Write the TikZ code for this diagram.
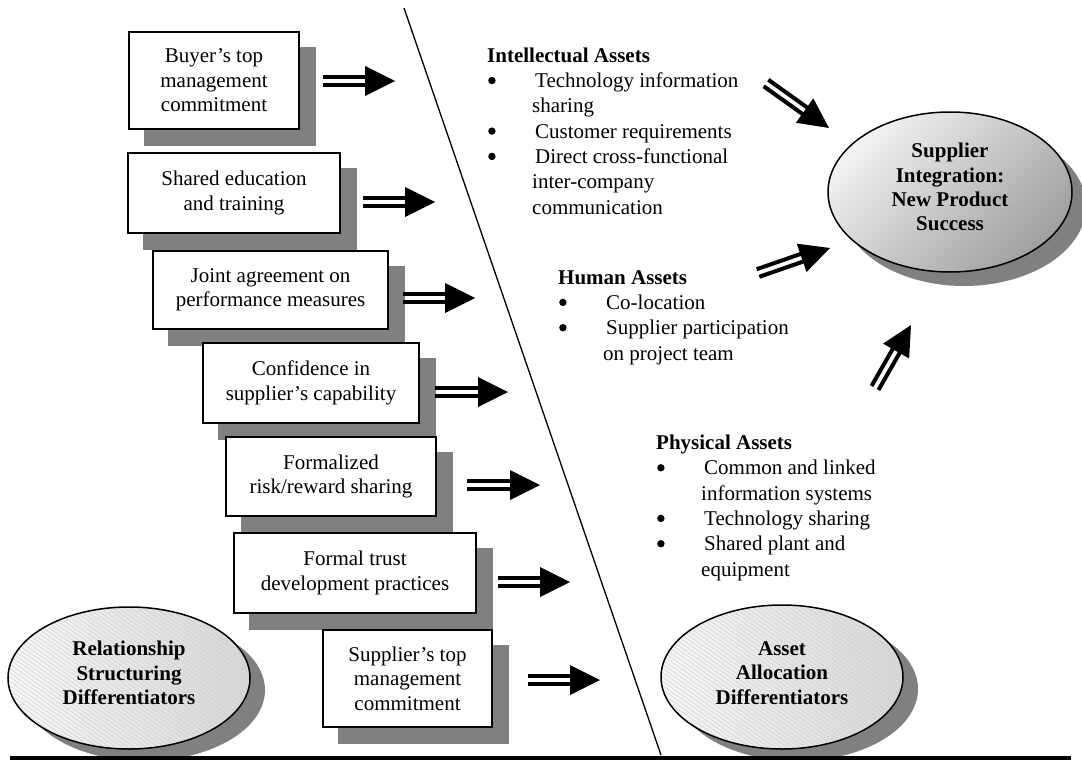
\documentclass[tikz,border=0pt]{standalone}
\usepackage{fontspec}
\setmainfont{Liberation Serif}
\usetikzlibrary{shapes.geometric,calc,backgrounds,patterns.meta}

% bullet and hanging indent for the asset lists
\newcommand\bitem{\makebox[48pt][l]{\hspace*{1pt}\tikz[baseline=-7pt]\fill (0,0) circle[radius=3.7pt];}}
\newcommand\contline{\hspace*{45pt}}

% block arrow: two parallel bars and a solid triangular head, from #1 (tail) to #2 (tip)
\newcommand\blockarrow[2]{%
  \coordinate (#2-base) at ($(#2)!30pt!(#1)$);
  \coordinate (#2-join) at ($(#2)!29pt!(#1)$);
  \fill[arrowfill] ($(#1)!2pt!90:(#2)$) -- ($(#1)!6pt!90:(#2)$)
     -- ($(#2-join)!6pt!90:(#2)$) -- ($(#2-join)!2pt!90:(#2)$) -- cycle;
  \fill[arrowfill] ($(#1)!2pt!-90:(#2)$) -- ($(#1)!6pt!-90:(#2)$)
     -- ($(#2-join)!6pt!-90:(#2)$) -- ($(#2-join)!2pt!-90:(#2)$) -- cycle;
  \fill[arrowfill] ($(#2-base)!15pt!90:(#2)$) -- (#2) -- ($(#2-base)!15pt!-90:(#2)$) -- cycle;
}

\begin{document}
\begin{tikzpicture}[x=1pt, y=-1pt,
  factor/.style={draw, line width=1.8pt, fill=white, inner sep=0pt,
    align=center, font=\fontsize{21}{24.5}\selectfont},
  shadowfill/.style={fill=gray},
  arrowfill/.style={fill=black},
  differ/.style={ellipse, draw, line width=1.5pt, inner sep=0pt,
    preaction={left color=gray!6, right color=gray!32},
    pattern={Lines[angle=-35, distance=3.5pt, line width=0.5pt]}, pattern color=gray!38},
  outcome/.style={ellipse, draw, line width=1.5pt, inner sep=0pt,
    top color=gray!10, bottom color=gray!75, shading angle=45},
  etxt/.style={align=center, inner sep=0pt, font=\bfseries\fontsize{21}{24.3}\selectfont},
  listtxt/.style={align=left, inner sep=0pt, anchor=base west,
    font=\fontsize{21}{25.3}\selectfont},
]
\useasboundingbox (0,0) rectangle (1082,760);

% dividing line and base rule
\coordinate (st) at (404,8);
\coordinate (sb) at (661,755);
\draw[line width=1.3pt] (st) -- (sb);
\coordinate (bl) at (10,758);
\coordinate (br) at (1071,758);
\draw[line width=4pt] (bl) -- (br);

% relationship structuring factors
\node[factor, minimum width=170, minimum height=97] (f1) at (214,80.5) {Buyer’s top\\management\\commitment};
\node[factor, minimum width=212, minimum height=80] (f2) at (234,193) {Shared education\\and training};
\node[factor, minimum width=235, minimum height=78] (f3) at (270.5,290) {Joint agreement on\\performance measures};
\node[factor, minimum width=216, minimum height=80] (f4) at (311,383) {Confidence in\\supplier’s capability};
\node[factor, minimum width=210, minimum height=79] (f5) at (331,476.5) {Formalized\\risk/reward sharing};
\node[factor, minimum width=242, minimum height=80] (f6) at (355,573) {Formal trust\\development practices};
\node[factor, minimum width=169, minimum height=97] (f7) at (407.5,678.5) {Supplier’s top\\management\\commitment};

% ellipses
\node[differ, minimum width=242, minimum height=142] (rel) at (129,678) {};
\node[etxt] (relt) at (129,673) {Relationship\\Structuring\\Differentiators};
\node[differ, minimum width=242, minimum height=144] (aad) at (782,677) {};
\node[etxt] (aadt) at (782,673) {Asset\\Allocation\\Differentiators};
\node[outcome, minimum width=244, minimum height=160] (sint) at (950,192) {};
\node[etxt] (sintt) at (950,187) {Supplier\\Integration:\\New Product\\Success};

% drop shadows
\begin{scope}[on background layer]
  \foreach \b in {f1,f2,f3,f4,f5,f6,f7}{
    \fill[shadowfill] ($(\b.south west)+(16,16)$) rectangle ($(\b.north east)+(16,16)$);
  }
  \fill[shadowfill] ($(rel)+(15,12)$) ellipse [x radius=121, y radius=71];
  \fill[shadowfill] ($(aad)+(15,12)$) ellipse [x radius=121, y radius=72];
  \fill[shadowfill] ($(sint)+(14,14)$) ellipse [x radius=122, y radius=80];
\end{scope}

% asset lists (anchored at the baseline of the last line)
\node[listtxt] (intel) at (487,214) {\textbf{Intellectual Assets}\\
  \bitem Technology information\\
  \contline sharing\\
  \bitem Customer requirements\\
  \bitem Direct cross-functional\\
  \contline inter-company\\
  \contline communication};
\node[listtxt] (human) at (558,360) {\textbf{Human Assets}\\
  \bitem Co-location\\
  \bitem Supplier participation\\
  \contline on project team};
\node[listtxt] (phys) at (656,576) {\textbf{Physical Assets}\\
  \bitem Common and linked\\
  \contline information systems\\
  \bitem Technology sharing\\
  \bitem Shared plant and\\
  \contline equipment};

% block arrows
\coordinate (a1t) at (323,81);  \coordinate (a1h) at (395,81);
\coordinate (a2t) at (363,202); \coordinate (a2h) at (435,202);
\coordinate (a3t) at (403,298); \coordinate (a3h) at (475,298);
\coordinate (a4t) at (435,392); \coordinate (a4h) at (508,392);
\coordinate (a5t) at (467,485); \coordinate (a5h) at (540,485);
\coordinate (a6t) at (498,582); \coordinate (a6h) at (570,582);
\coordinate (a7t) at (528,680); \coordinate (a7h) at (600,680);
\coordinate (d1t) at (766,83);  \coordinate (d1h) at (829,128);
\coordinate (d2t) at (758,273); \coordinate (d2h) at (830,248);
\coordinate (d3t) at (875,388); \coordinate (d3h) at (911,325);
\foreach \a in {a1,a2,a3,a4,a5,a6,a7,d1,d2,d3}{
  \blockarrow{\a t}{\a h}
}
\end{tikzpicture}
\end{document}
